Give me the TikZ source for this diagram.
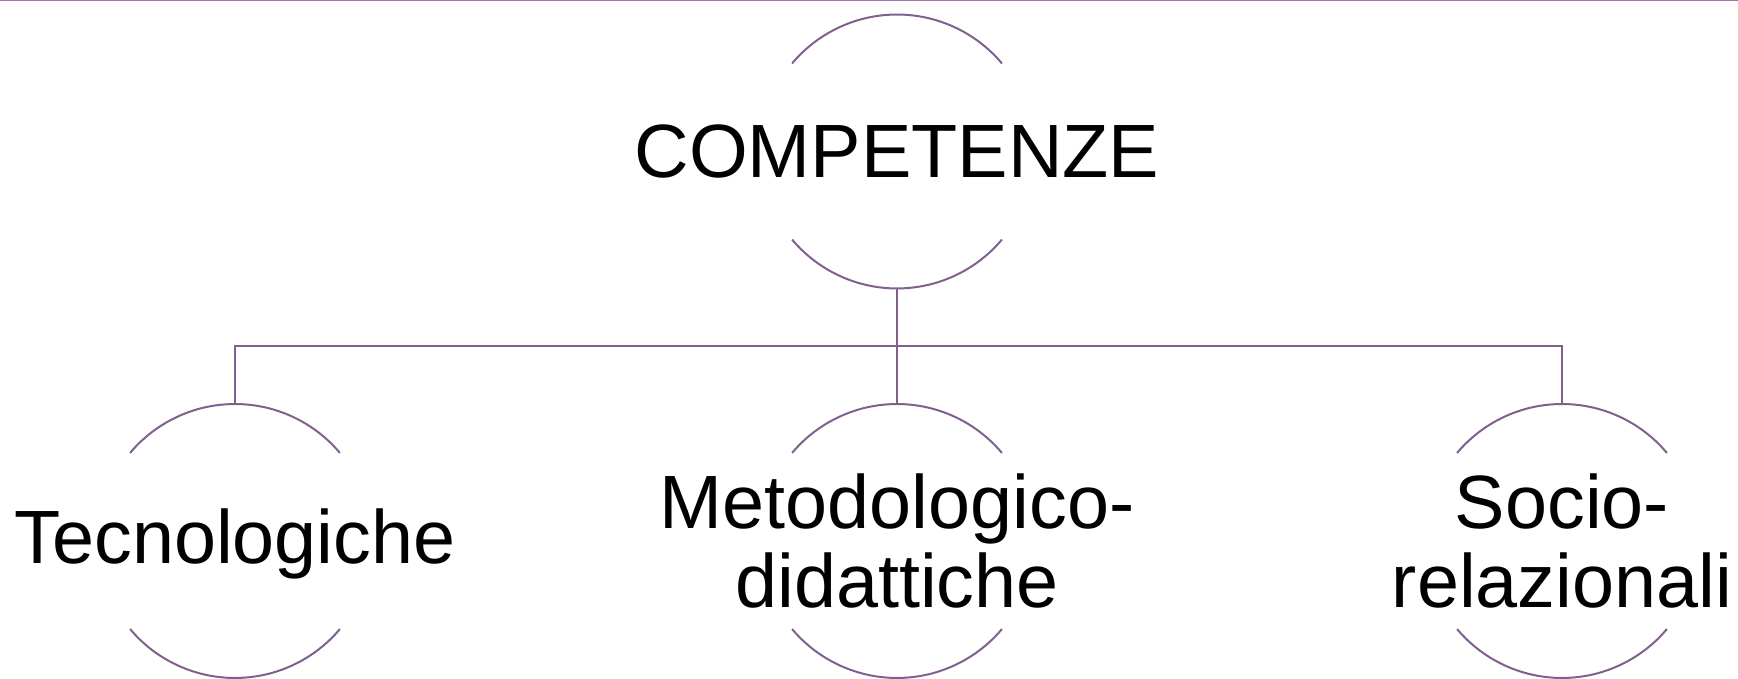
\documentclass[tikz,border=0pt]{standalone}
\usepackage{fontspec}
\setmainfont{Liberation Sans}
\definecolor{rulepurple}{RGB}{165,115,175}
\definecolor{arcpurple}{RGB}{128,96,140}

\begin{document}
\begin{tikzpicture}[x=0.02cm,y=0.02cm,
ring/.style={circle,inner sep=0pt,outer sep=0pt,minimum size=5.48cm},
txt/.style={align=center,inner sep=0pt,font=\fontsize{43}{45.5}\selectfont},
arcline/.style={draw=arcpurple,line width=0.04cm}]

\useasboundingbox (0,0) rectangle (1738,679);
\draw[rulepurple,line width=0.03cm] (0,678.3) -- (1738,678.3);

\node[ring] (top) at (897,527.5) {};
\node[ring] (tec) at (235,138) {};
\node[ring] (met) at (897,138) {};
\node[ring] (soc) at (1562,138) {};
\coordinate (bus) at (897,333);

\foreach \n in {top,tec,met,soc} {
  \draw[arcline] ([shift={(40:2.74cm)}]\n.center) arc (40:140:2.74cm);
  \draw[arcline] ([shift={(220:2.74cm)}]\n.center) arc (220:320:2.74cm);
}

\node[txt] at (top) {COMPETENZE};
\node[txt,yshift=-0.06cm] at (tec) {Tecnologiche};
\node[txt] at (met) {Metodologico-\\didattiche};
\node[txt] at (soc) {Socio-\\relazionali};

\draw[arcline] (top.south) -- (met.north);
\draw[arcline] (tec.north) |- (bus) -| (soc.north);
\end{tikzpicture}
\end{document}
